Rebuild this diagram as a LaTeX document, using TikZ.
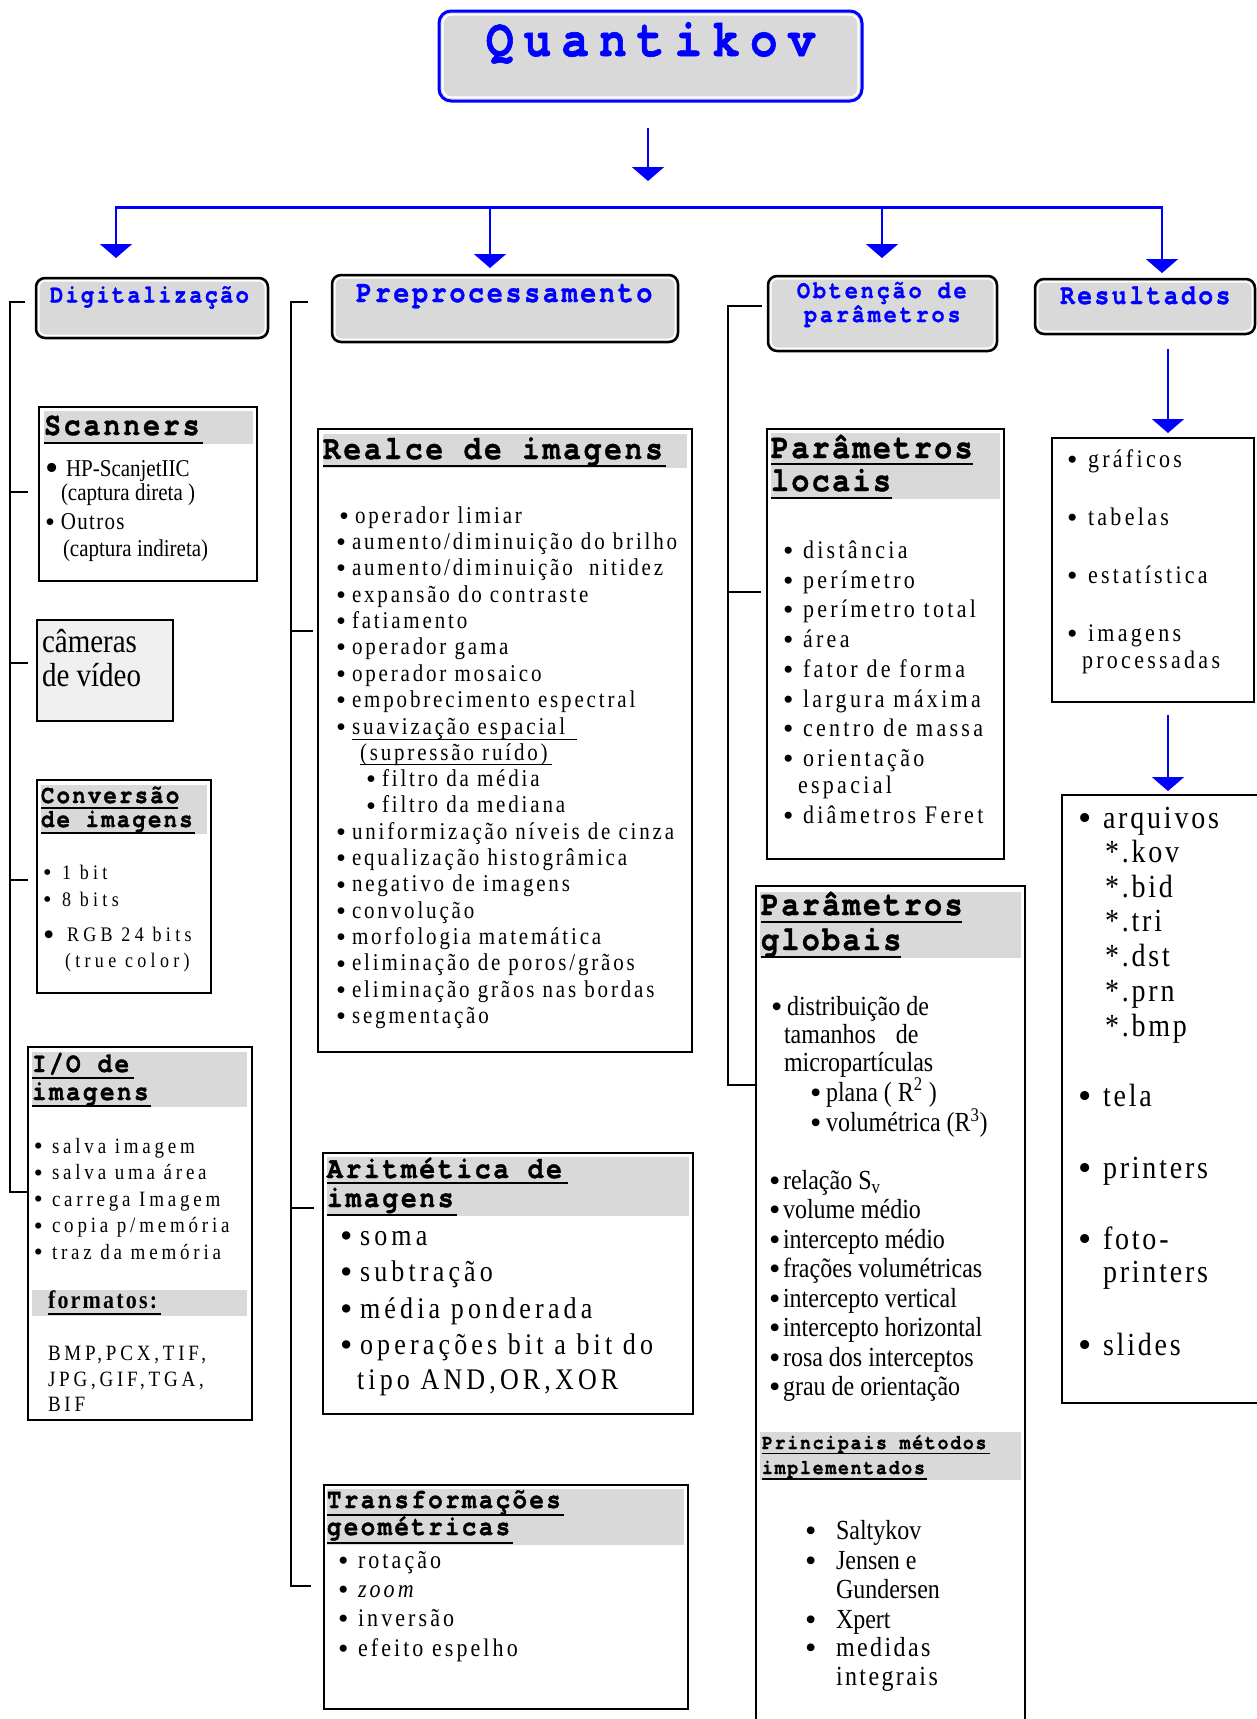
\documentclass[tikz,border=0pt]{standalone}
\usepackage{fontspec}
\setmainfont{Liberation Serif}
\newfontfamily\monobold{texgyrecursor-bold.otf}[FakeBold=1.2]
\usetikzlibrary{arrows.meta,calc,fit}

\definecolor{qblue}{RGB}{0,0,255}
\definecolor{band}{RGB}{217,217,217}
\definecolor{camfill}{RGB}{240,240,240}

% font helpers: size (pt) and letter spacing (percent of size)
\newcommand\fser[2]{\fontsize{#1}{#1}\selectfont\addfontfeatures{LetterSpace=#2}}
\newcommand\fmono[2]{\monobold\fontsize{#1}{#1}\selectfont\addfontfeatures{LetterSpace=#2}}

% one line of text, slightly stretched vertically, anchored at its baseline
\newcount\linecount
\newcommand\txtline[4][]{\global\advance\linecount by 1\relax
  \node[txt,#1] (line\the\linecount) at (#2,#3) {\scalebox{1}[1.15]{#4}};}
\newcommand\bul[1]{\makebox[#1pt][l]{\raisebox{-0.09em}{\scalebox{1.35}[1.17]{\textbullet}}}}
\newcommand\bigbul[1]{\makebox[#1pt][l]{\raisebox{-0.2em}{\scalebox{1.8}[1.57]{\textbullet}}}}

% rounded category box with a thin white inner rim
\newcommand\catbox[5]{%
  \node[catbox, fit={(#2,#3) (#4,#5)}] (#1) {};
  \draw[white, line width=1.4pt, rounded corners=6.5pt]
    ($(#1.north west)+(2.8,2.8)$) rectangle ($(#1.south east)+(-2.8,-2.8)$);}
% plain section box
\newcommand\secbox[6][white]{\node[secbox, fill=#1, fit={(#3,#4) (#5,#6)}] (#2) {};}

\begin{document}
\begin{tikzpicture}[x=1pt,y=-1pt,
  txt/.style={anchor=base west, inner sep=0pt, outer sep=0pt},
  bt/.style={text=qblue},
  catbox/.style={draw=black, line width=2.5pt, rounded corners=9pt, fill=band, inner sep=0pt, outer sep=0pt},
  secbox/.style={draw=black, line width=2pt, inner sep=0pt, outer sep=0pt},
  arr/.style={draw=qblue, line width=2pt, -{Triangle[width=32pt,length=14pt]}},
  bus/.style={draw=qblue, line width=3pt},
  brk/.style={draw=black, line width=2.5pt, line join=miter},
  uline/.style={draw=black, line width=2pt},
  scn/.style={font=\fser{21}{0}},
  camt/.style={font=\fser{29}{0}},
  conv/.style={font=\fser{18}{24}},
  iot/.style={font=\fser{19}{20}},
  fmt/.style={font=\fser{19}{20}},
  realce/.style={font=\fser{21}{13.5}},
  ploc/.style={font=\fser{22}{15}},
  pglob/.style={font=\fser{24}{0}},
  grf/.style={font=\fser{22}{15}},
  arq/.style={font=\fser{28}{10}},
  arit/.style={font=\fser{26}{16}},
  trf/.style={font=\fser{22}{14}}]

\path[use as bounding box] (0,0) rectangle (1257,1719);
\clip (0,0) rectangle (1257,1719);

% ---------- main title ----------
\node[draw=qblue, line width=3pt, rounded corners=12pt, fill=band, inner sep=0pt, outer sep=0pt,
      fit={(439,11) (862,101)}] (qbox) {};
\draw[white, line width=2pt, rounded corners=9pt]
  ($(qbox.north west)+(3.6,3.6)$) rectangle ($(qbox.south east)+(-3.6,-3.6)$);
\txtline[bt,font=\fmono{46}{22}]{486}{56}{Quantikov}

% ---------- category boxes ----------
\catbox{dig}{36}{278}{268}{338}
\catbox{pre}{332}{275}{678}{342}
\catbox{obt}{768}{276}{997}{351}
\catbox{res}{1035}{279}{1255}{334}
\txtline[bt,font=\fmono{22.1}{10}]{50}{302.5}{Digitalização}
\txtline[bt,font=\fmono{26.7}{10}]{356}{302}{Preprocessamento}
\txtline[bt,font=\fmono{21.7}{13.5}]{797}{298}{Obtenção de}
\txtline[bt,font=\fmono{21.7}{13.5}]{804}{322}{parâmetros}
\txtline[bt,font=\fmono{24.7}{10}]{1060}{304}{Resultados}

% ---------- blue arrows ----------
\coordinate (qa1) at (648,128);
\coordinate (qa2) at (648,181);
\draw[arr] (qa1) -- (qa2);
\coordinate (busL) at (116,207);
\coordinate (busR) at (1162,207);
\draw[bus] (busL) -- (busR);
\coordinate (b1) at (116,206);  \coordinate (b1t) at (116,258);
\coordinate (b2) at (490,206);  \coordinate (b2t) at (490,268);
\coordinate (b3) at (882,206);  \coordinate (b3t) at (882,258);
\coordinate (b4) at (1162,206); \coordinate (b4t) at (1162,273);
\draw[arr] (b1) -- (b1t);
\draw[arr] (b2) -- (b2t);
\draw[arr] (b3) -- (b3t);
\draw[arr] (b4) -- (b4t);
\coordinate (r1) at (1168,349); \coordinate (r1t) at (1168,433);
\coordinate (r2) at (1168,715); \coordinate (r2t) at (1168,791);
\draw[arr] (r1) -- (r1t);
\draw[arr] (r2) -- (r2t);

% ---------- brackets ----------
\draw[brk] (25,302) -- (10,302) -- (10,1192) -- (28,1192);
\draw[brk] (10,492) -- (28,492);
\draw[brk] (10,663) -- (28,663);
\draw[brk] (10,880) -- (28,880);
\draw[brk] (308,302) -- (291,302) -- (291,1586) -- (311,1586);
\draw[brk] (291,631) -- (313,631);
\draw[brk] (291,1208) -- (314,1208);
\draw[brk] (762,306) -- (728,306) -- (728,1085) -- (757,1085);
\draw[brk, line width=2pt] (728,592) -- (761,592);

% ---------- Digitalizacao column ----------
\secbox{scan}{39}{407}{257}{581}
\fill[band] (44,411) rectangle (253,444);
\txtline[font=\fmono{28.3}{10}]{44}{435}{Scanners}
\draw[uline] (44,443) -- (203,443);
\txtline[scn]{45}{476}{\bigbul{21}HP-ScanjetIIC}
\txtline[scn]{61}{500}{(captura direta )}
\txtline[scn]{45}{529.5}{\bul{16}{\addfontfeatures{LetterSpace=6}Outros}}
\txtline[scn]{63}{556}{(captura indireta)}

\secbox[camfill]{cam}{37}{620}{173}{721}
\txtline[camt]{42}{652}{câmeras}
\txtline[camt]{42}{686.4}{de vídeo}

\secbox{conv}{37}{780}{211}{993}
\fill[band] (41,785) rectangle (207,834);
\txtline[font=\fmono{22.3}{10}]{41}{803}{Conversão}
\txtline[font=\fmono{22.3}{10}]{41}{827}{de imagens}
\draw[uline] (41,808) -- (178,808);
\draw[uline] (41,833) -- (195,833);
\txtline[conv]{43}{879}{\bul{19}1 bit}
\txtline[conv]{43}{906}{\bul{19}8 bits}
\txtline[conv]{43}{941.5}{\bigbul{24}RGB 24 bits}
\txtline[conv]{65}{967}{(true color)}

\secbox{io}{28}{1047}{252}{1420}
\fill[band] (32,1052) rectangle (247,1107);
\fill[band] (32,1290) rectangle (247,1316);
\txtline[font=\fmono{24.3}{10}]{32}{1072}{I/O de}
\txtline[font=\fmono{24.3}{10}]{32}{1100}{imagens}
\draw[uline] (32,1078) -- (134,1078);
\draw[uline] (32,1106) -- (151,1106);
\txtline[iot]{34}{1153}{\bul{18}salva imagem}
\txtline[iot]{34}{1179.5}{\bul{18}salva uma área}
\txtline[iot]{34}{1206}{\bul{18}carrega Imagem}
\txtline[iot]{34}{1232.5}{\bul{18}copia p/memória}
\txtline[iot]{34}{1259}{\bul{18}traz da memória}
\txtline[font=\bfseries\fser{22}{10}]{48}{1308}{formatos:}
\draw[uline, line width=1.5pt] (48,1314) -- (161,1314);
\txtline[fmt]{48}{1360}{BMP,PCX,TIF,}
\txtline[fmt]{48}{1386}{JPG,GIF,TGA,}
\txtline[fmt]{48}{1411}{BIF}

% ---------- Preprocessamento column ----------
\secbox{realce}{318}{429}{692}{1052}
\fill[band] (323,434) rectangle (687,468);
\txtline[font=\fmono{29.3}{10}]{323}{459}{Realce de imagens}
\draw[uline] (323,465.6) -- (666,465.6);
\txtline[realce]{339}{523}{\bul{16}operador limiar}
\txtline[realce]{336}{549.35}{\bul{16}aumento/diminuição do brilho}
\txtline[realce]{336}{575.7}{\bul{16}aumento/diminuição\ \ nitidez}
\txtline[realce]{336}{602.05}{\bul{16}expansão do contraste}
\txtline[realce]{336}{628.4}{\bul{16}fatiamento}
\txtline[realce]{336}{654.75}{\bul{16}operador gama}
\txtline[realce]{336}{681.1}{\bul{16}operador mosaico}
\txtline[realce]{336}{707.45}{\bul{16}empobrecimento espectral}
\txtline[realce]{336}{734.5}{\bul{16}suavização espacial}
\draw[line width=1pt] (352,739) -- (577,739);
\txtline[realce]{360}{760}{(supressão ruído)}
\draw[line width=1pt] (360,764) -- (552,764);
\txtline[realce]{366}{786.5}{\bul{16}filtro da média}
\txtline[realce]{366}{812.85}{\bul{16}filtro da mediana}
\txtline[realce]{336}{839.2}{\bul{16}uniformização níveis de cinza}
\txtline[realce]{336}{865.55}{\bul{16}equalização histogrâmica}
\txtline[realce]{336}{891.9}{\bul{16}negativo de imagens}
\txtline[realce]{336}{918.25}{\bul{16}convolução}
\txtline[realce]{336}{944.6}{\bul{16}morfologia matemática}
\txtline[realce]{336}{970.95}{\bul{16}eliminação de poros/grãos}
\txtline[realce]{336}{997.3}{\bul{16}eliminação grãos nas bordas}
\txtline[realce]{336}{1023.65}{\bul{16}segmentação}

\secbox{arit}{323}{1153}{693}{1414}
\fill[band] (327,1157) rectangle (689,1216);
\txtline[font=\fmono{26.4}{10}]{327}{1178}{Aritmética de}
\txtline[font=\fmono{26.4}{10}]{327}{1207}{imagens}
\draw[uline] (327,1183) -- (568,1183);
\draw[uline] (327,1215) -- (457,1215);
\txtline[arit]{340}{1245}{\bul{20}soma}
\txtline[arit]{340}{1281}{\bul{20}subtração}
\txtline[arit]{340}{1318}{\bul{20}média ponderada}
\txtline[arit]{340}{1354}{\bul{20}operações bit a bit do}
\txtline[arit]{357}{1389}{tipo AND,OR,XOR}

\secbox{trf}{324}{1485}{688}{1709}
\fill[band] (327,1489) rectangle (684,1545);
\txtline[font=\fmono{24.1}{10}]{327}{1508}{Transformações}
\txtline[font=\fmono{24.1}{10}]{327}{1535}{geométricas}
\draw[uline] (327,1515) -- (564,1515);
\draw[uline] (327,1543) -- (513,1543);
\txtline[trf]{338}{1568}{\bul{20}rotação}
\txtline[trf]{338}{1597}{\bul{20}\textit{zoom}}
\txtline[trf]{338}{1626}{\bul{20}inversão}
\txtline[trf]{338}{1656}{\bul{20}efeito espelho}

% ---------- Obtencao de parametros column ----------
\secbox{ploc}{767}{429}{1004}{859}
\fill[band] (771,433) rectangle (1000,499);
\txtline[font=\fmono{30}{8}]{771}{458}{Parâmetros}
\txtline[font=\fmono{30}{8}]{771}{491}{locais}
\draw[uline] (771,464) -- (973,464);
\draw[uline] (771,498) -- (892,498);
\txtline[ploc]{783}{558}{\bul{20}distância}
\txtline[ploc]{783}{588}{\bul{20}perímetro}
\txtline[ploc]{783}{617}{\bul{20}perímetro total}
\txtline[ploc]{783}{647}{\bul{20}área}
\txtline[ploc]{783}{677}{\bul{20}fator de forma}
\txtline[ploc]{783}{707}{\bul{20}largura máxima}
\txtline[ploc]{783}{736}{\bul{20}centro de massa}
\txtline[ploc]{783}{766}{\bul{20}orientação}
\txtline[ploc]{798}{793}{espacial}
\txtline[ploc]{783}{823}{\bul{20}diâmetros Feret}

\secbox{pglob}{756}{886}{1025}{1740}
\fill[band] (760,892) rectangle (1021,958);
\fill[band] (760,1432) rectangle (1021,1480);
\txtline[font=\fmono{30}{8}]{761}{915}{Parâmetros}
\txtline[font=\fmono{30}{8}]{761}{950}{globais}
\draw[uline] (761,922) -- (962,922);
\draw[uline] (761,956.5) -- (901,956.5);
\txtline[pglob]{771}{1015}{\bul{16}distribuição de}
\txtline[pglob]{784}{1043}{tamanhos\hspace{20pt}de}
\txtline[pglob]{784}{1071.5}{micropartículas}
\txtline[pglob]{810}{1101}{\bul{16}plana ( R\textsuperscript{2} )}
\txtline[pglob]{810}{1131.5}{\bul{16}volumétrica (R\textsuperscript{3})}
\txtline[pglob]{769}{1189}{\bul{14}relação S\textsubscript{v}}
\txtline[pglob]{769}{1218}{\bul{14}volume médio}
\txtline[pglob]{769}{1248}{\bul{14}intercepto médio}
\txtline[pglob]{769}{1277}{\bul{14}frações volumétricas}
\txtline[pglob]{769}{1307}{\bul{14}intercepto vertical}
\txtline[pglob]{769}{1336}{\bul{14}intercepto horizontal}
\txtline[pglob]{769}{1366}{\bul{14}rosa dos interceptos}
\txtline[pglob]{769}{1395}{\bul{14}grau de orientação}
\txtline[font=\fmono{18.1}{10}]{762}{1449}{Principais métodos}
\txtline[font=\fmono{18.1}{10}]{762}{1474}{implementados}
\draw[uline, line width=1.5pt] (762,1453.6) -- (990,1453.6);
\draw[uline, line width=1.5pt] (762,1479) -- (927,1479);
\txtline[pglob]{805}{1539}{\bul{31}Saltykov}
\txtline[pglob]{805}{1569}{\bul{31}Jensen e}
\txtline[pglob]{836}{1598}{Gundersen}
\txtline[pglob]{805}{1628}{\bul{31}Xpert}
\txtline[pglob]{805}{1656}{\bul{31}{\addfontfeatures{LetterSpace=10}medidas}}
\txtline[pglob]{836}{1685}{{\addfontfeatures{LetterSpace=10}integrais}}

% ---------- Resultados column ----------
\secbox{grf}{1052}{438}{1254}{702}
\txtline[grf]{1067}{467}{\bul{21}gráficos}
\txtline[grf]{1067}{525}{\bul{21}tabelas}
\txtline[grf]{1067}{583}{\bul{21}estatística}
\txtline[grf]{1067}{641}{\bul{21}imagens}
\txtline[grf]{1082}{668}{processadas}

\secbox{arq}{1062}{795}{1262}{1403}
\txtline[arq]{1078}{828}{\bul{25}arquivos}
\txtline[arq]{1105}{862}{*.kov}
\txtline[arq]{1105}{897}{*.bid}
\txtline[arq]{1105}{931}{*.tri}
\txtline[arq]{1105}{966}{*.dst}
\txtline[arq]{1105}{1001}{*.prn}
\txtline[arq]{1105}{1036}{*.bmp}
\txtline[arq]{1078}{1106}{\bul{25}tela}
\txtline[arq]{1078}{1178}{\bul{25}printers}
\txtline[arq]{1078}{1249}{\bul{25}foto-}
\txtline[arq]{1103}{1282}{printers}
\txtline[arq]{1078}{1355}{\bul{25}slides}
\end{tikzpicture}
\end{document}
